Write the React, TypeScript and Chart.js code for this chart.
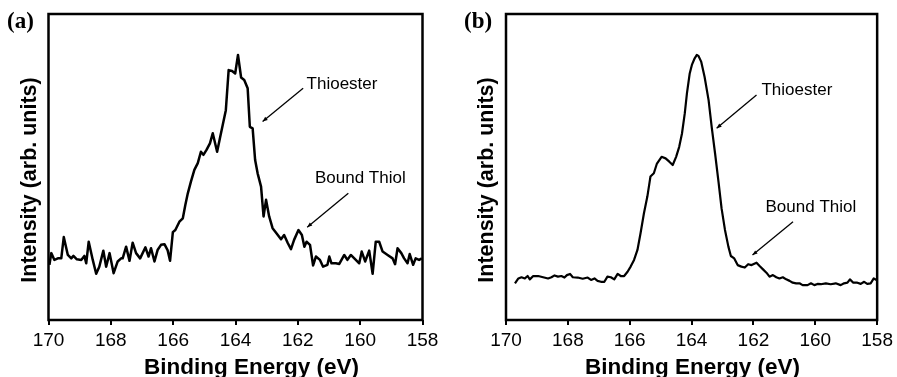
import { useEffect, useRef } from "react";
import { Chart, registerables } from "chart.js";

Chart.register(...registerables);

// ---------- data ----------
const xTicks = [170, 168, 166, 164, 162, 160, 158];

const energyA = [
  169.97, 169.91, 169.81, 169.7, 169.59, 169.51, 169.38, 169.27, 169.2, 169.09,
  168.95, 168.85, 168.79, 168.71, 168.58, 168.47, 168.37, 168.24, 168.15, 168.04,
  167.91, 167.78, 167.67, 167.62, 167.51, 167.4, 167.3, 167.19, 167.06, 166.89,
  166.79, 166.71, 166.6, 166.5, 166.39, 166.28, 166.18, 166.1, 166.01, 165.93,
  165.8, 165.69, 165.61, 165.53, 165.43, 165.32, 165.21, 165.11, 165.03, 164.93,
  164.82, 164.73, 164.59, 164.5, 164.41, 164.31, 164.22, 164.11, 164.01, 163.92,
  163.82, 163.72, 163.61, 163.54, 163.45, 163.37, 163.29, 163.18, 163.1, 163.02,
  162.92, 162.81, 162.68, 162.54, 162.44, 162.32, 162.22, 162.12, 161.98, 161.87,
  161.79, 161.72, 161.61, 161.51, 161.42, 161.29, 161.19, 161.05, 160.99, 160.92,
  160.78, 160.67, 160.51, 160.41, 160.3, 160.14, 160.03, 159.95, 159.84, 159.71,
  159.6, 159.5, 159.39, 159.28, 159.12, 158.96, 158.88, 158.8, 158.68, 158.59,
  158.48, 158.41, 158.3, 158.22, 158.11, 158.02,
];
const intensityA = [
  18.4, 22.2, 20.0, 20.5, 20.5, 27.4, 21.6, 20.5, 21.3, 20.2,
  20.0, 21.3, 18.9, 25.9, 20.0, 15.5, 17.8, 23.0, 17.8, 22.2,
  15.7, 19.5, 20.5, 20.5, 24.3, 19.7, 25.6, 22.2, 20.5, 24.1,
  21.1, 23.8, 19.5, 23.2, 24.9, 25.1, 23.2, 19.7, 29.0, 29.7,
  32.4, 33.5, 37.8, 41.6, 45.4, 49.2, 51.4, 55.1, 54.1, 55.7,
  57.8, 61.1, 55.1, 59.5, 63.8, 68.6, 81.6, 81.3, 80.5, 86.5,
  79.2, 78.4, 75.7, 63.2, 62.7, 52.4, 48.1, 43.8, 34.1, 39.5,
  34.1, 30.3, 28.6, 26.7, 28.1, 25.4, 23.5, 26.5, 29.7, 28.1,
  24.3, 25.9, 24.9, 18.2, 21.1, 20.0, 17.8, 18.4, 21.1, 18.9,
  18.9, 18.7, 21.6, 20.0, 21.6, 20.0, 18.9, 22.7, 19.5, 23.0,
  15.5, 25.9, 25.9, 22.7, 21.6, 20.5, 18.6, 23.8, 22.2, 20.5,
  18.9, 21.9, 18.4, 20.5, 20.0, 20.5,
];

const energyB = [
  169.71, 169.6, 169.5, 169.39, 169.3, 169.23, 169.12, 168.96, 168.8, 168.64,
  168.53, 168.43, 168.32, 168.21, 168.11, 168.03, 167.93, 167.84, 167.68, 167.52,
  167.36, 167.25, 167.14, 167.04, 166.93, 166.82, 166.72, 166.61, 166.5, 166.39,
  166.29, 166.18, 166.07, 165.97, 165.86, 165.75, 165.65, 165.54, 165.43, 165.33,
  165.22, 165.12, 164.97, 164.84, 164.72, 164.61, 164.5, 164.4, 164.31, 164.22,
  164.15, 164.06, 163.99, 163.9, 163.83, 163.78, 163.69, 163.58, 163.45, 163.35,
  163.24, 163.13, 163.03, 162.92, 162.81, 162.73, 162.62, 162.51, 162.39, 162.28,
  162.17, 162.06, 161.9, 161.8, 161.69, 161.58, 161.48, 161.37, 161.26, 161.16,
  161.05, 160.94, 160.83, 160.73, 160.62, 160.51, 160.41, 160.25, 160.14, 160.03,
  159.93, 159.82, 159.66, 159.5, 159.34, 159.18, 159.07, 158.96, 158.88, 158.77,
  158.64, 158.53, 158.42, 158.32, 158.21, 158.11, 158.02,
];
const intensityB = [
  11.0, 12.6, 13.0, 12.6, 13.4, 12.3, 13.4, 13.4, 13.0, 12.6,
  13.0, 13.6, 13.2, 13.4, 12.9, 13.7, 14.1, 13.0, 12.9, 12.5,
  12.9, 12.1, 12.6, 11.8, 11.5, 11.5, 13.2, 13.0, 12.3, 14.1,
  13.4, 13.4, 14.8, 16.5, 18.7, 22.0, 27.5, 34.1, 39.6, 46.2,
  47.3, 50.5, 52.7, 52.2, 51.1, 50.0, 52.7, 56.0, 60.4, 67.0,
  73.6, 80.2, 83.0, 85.2, 86.3, 86.0, 84.1, 79.1, 71.4, 62.6,
  53.8, 44.5, 35.7, 28.6, 23.1, 20.0, 19.2, 17.0, 16.5, 16.2,
  17.3, 17.0, 17.8, 16.7, 15.6, 14.5, 13.2, 13.7, 13.0, 12.6,
  13.0, 12.3, 11.8, 11.2, 11.0, 11.0, 10.4, 10.4, 11.0, 10.4,
  10.8, 10.7, 11.0, 10.7, 11.0, 10.4, 11.0, 11.2, 12.3, 11.2,
  11.2, 10.8, 11.5, 10.8, 11.0, 12.6, 12.1,
];

// annotations: [label, textX(eV), textY, arrowFromX, arrowFromY, arrowToX, arrowToY]
const annotationsA: [string, number, number, number, number, number, number][] = [
  ["Thioester", 161.72, 75.3, 161.83, 75.7, 163.13, 64.9],
  ["Bound Thiol", 161.45, 45.0, 160.38, 41.6, 161.7, 30.6],
];
const annotationsB: [string, number, number, number, number, number, number][] = [
  ["Thioester", 161.74, 73.1, 161.9, 73.1, 163.19, 62.1],
  ["Bound Thiol", 161.61, 34.6, 160.72, 31.3, 162.03, 20.3],
];

const X_TITLE = "Binding Energy (eV)";
const Y_TITLE = "Intensity (arb. units)";

const SANS = "'Liberation Sans', Arial, Helvetica, sans-serif";
const SERIF = "'Liberation Serif', 'Times New Roman', serif";

type PanelCfg = {
  label: string;
  energy: number[];
  intensity: number[];
  annotations: [string, number, number, number, number, number, number][];
  yMin: number;
  yMax: number;
  lineWidth: number;
  padLeft: number;
  padRight: number;
  labelX: number;
  yTitleX: number;
  xTitleShift: number;
};

const panelA: PanelCfg = {
  label: "(a)",
  energy: energyA,
  intensity: intensityA,
  annotations: annotationsA,
  yMin: 0.5,
  yMax: 99.8,
  lineWidth: 2.5,
  padLeft: 48.5,
  padRight: 25.5,
  labelX: 7,
  yTitleX: 30,
  xTitleShift: 16,
};
const panelB: PanelCfg = {
  label: "(b)",
  energy: energyB,
  intensity: intensityB,
  annotations: annotationsB,
  yMin: -1.1,
  yMax: 99.8,
  lineWidth: 2.2,
  padLeft: 58,
  padRight: 19,
  labelX: 16,
  yTitleX: 39,
  xTitleShift: 1,
};

function Panel({ cfg, width, left }: { cfg: PanelCfg; width: number; left: number }) {
  const ref = useRef<HTMLCanvasElement | null>(null);
  useEffect(() => {
    if (!ref.current) return;
    const decor = {
      id: "decor",
      afterDraw(chart: any) {
        const { ctx, chartArea: ca, scales } = chart;
        const sx = scales.x;
        const sy = scales.y;
        ctx.save();
        // frame
        ctx.strokeStyle = "#000";
        ctx.lineWidth = 2.5;
        ctx.strokeRect(ca.left, ca.top, ca.right - ca.left, ca.bottom - ca.top);
        ctx.fillStyle = "#000";
        // panel label
        ctx.font = `bold 23px ${SERIF}`;
        ctx.textAlign = "left";
        ctx.textBaseline = "alphabetic";
        ctx.fillText(cfg.label, cfg.labelX, 28);
        // x title
        ctx.font = `bold 22.5px ${SANS}`;
        ctx.textAlign = "center";
        ctx.fillText(X_TITLE, (ca.left + ca.right) / 2 + cfg.xTitleShift, 374);
        // y title
        ctx.save();
        ctx.translate(cfg.yTitleX, 180);
        ctx.rotate(-Math.PI / 2);
        ctx.font = `bold 21.5px ${SANS}`;
        ctx.textAlign = "center";
        ctx.textBaseline = "middle";
        ctx.fillText(Y_TITLE, 0, 0);
        ctx.restore();
        // annotations
        for (const [text, tx, ty, fx, fy, ex, ey] of cfg.annotations) {
          ctx.font = `17px ${SANS}`;
          ctx.textAlign = "left";
          ctx.textBaseline = "alphabetic";
          ctx.fillText(text, sx.getPixelForValue(tx), sy.getPixelForValue(ty));
          const x1 = sx.getPixelForValue(fx);
          const y1 = sy.getPixelForValue(fy);
          const x2 = sx.getPixelForValue(ex);
          const y2 = sy.getPixelForValue(ey);
          ctx.lineWidth = 1.3;
          ctx.beginPath();
          ctx.moveTo(x1, y1);
          ctx.lineTo(x2, y2);
          ctx.stroke();
          const ang = Math.atan2(y2 - y1, x2 - x1);
          const L = 5;
          const W = 2;
          ctx.beginPath();
          ctx.moveTo(x2, y2);
          ctx.lineTo(x2 - L * Math.cos(ang) - W * Math.sin(ang), y2 - L * Math.sin(ang) + W * Math.cos(ang));
          ctx.lineTo(x2 - L * Math.cos(ang) + W * Math.sin(ang), y2 - L * Math.sin(ang) - W * Math.cos(ang));
          ctx.closePath();
          ctx.fill();
        }
        ctx.restore();
      },
    };
    const chart = new Chart(ref.current, {
      type: "line",
      data: {
        datasets: [
          {
            data: cfg.energy.map((e, i) => ({ x: e, y: cfg.intensity[i] })),
            borderColor: "#000",
            borderWidth: cfg.lineWidth,
            pointRadius: 0,
            tension: 0,
            fill: false,
            borderJoinStyle: "round",
          },
        ],
      },
      options: {
        animation: false,
        responsive: false,
        maintainAspectRatio: false,
        layout: { padding: { left: cfg.padLeft, right: cfg.padRight, top: 14, bottom: 0 } },
        plugins: { legend: { display: false }, tooltip: { enabled: false } },
        scales: {
          x: {
            type: "linear",
            min: 158,
            max: 170,
            reverse: true,
            afterBuildTicks: (scale: any) => {
              scale.ticks = xTicks.map((v) => ({ value: v }));
            },
            afterFit: (scale: any) => {
              scale.height = 57;
            },
            border: { display: false },
            grid: {
              display: true,
              drawOnChartArea: false,
              drawTicks: true,
              tickLength: 5,
              color: "#000",
              lineWidth: 2,
            },
            ticks: {
              color: "#000",
              font: { family: SANS, size: 19 },
              padding: 4,
              maxRotation: 0,
              autoSkip: false,
            },
          },
          y: {
            type: "linear",
            display: false,
            min: cfg.yMin,
            max: cfg.yMax,
          },
        },
      },
      plugins: [decor],
    } as any);
    return () => chart.destroy();
  }, [cfg]);
  return (
    <canvas
      ref={ref}
      width={width}
      height={377}
      style={{ position: "absolute", left, top: 0, width, height: 377 }}
    />
  );
}

export default function App() {
  return (
    <div
      style={{
        position: "fixed",
        left: 0,
        top: 0,
        width: 897,
        height: 377,
        background: "#fff",
        overflow: "hidden",
      }}
    >
      <Panel cfg={panelA} width={448} left={0} />
      <Panel cfg={panelB} width={449} left={448} />
    </div>
  );
}
